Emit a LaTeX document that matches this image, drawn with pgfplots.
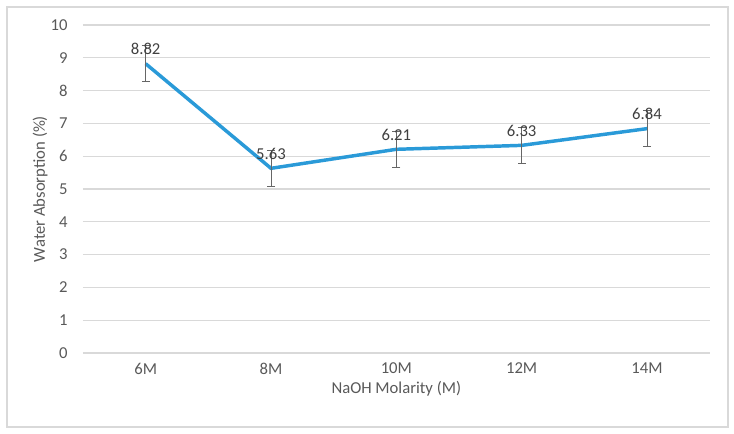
\documentclass[border=0pt]{standalone}
\usepackage{pgfplots}
\pgfplotsset{compat=1.18}
\usepackage{fontspec}
\setmainfont{Carlito}
\definecolor{lineblue}{HTML}{2A9AD8}
\definecolor{txtgray}{HTML}{595959}
\definecolor{gridgray}{HTML}{D9D9D9}
\definecolor{lblgray}{HTML}{404040}
\begin{document}
\begin{tikzpicture}
\path[use as bounding box] (-62.25pt,-60.75pt) rectangle (488.25pt,264.75pt);
\draw[gridgray, line width=0.8pt] (-57pt,-55.5pt) rectangle (483.75pt,259.5pt);
\begin{axis}[
  at={(0pt,0pt)}, anchor=south west,
  scale only axis, width=470pt, height=246pt,
  xmin=-0.5, xmax=4.5, ymin=0, ymax=10,
  xtick=data, xticklabels={6M,8M,10M,12M,14M},
  ytick={0,1,...,10},
  axis line style={draw=none},
  major tick length=0pt,
  ymajorgrids, grid style={gridgray, line width=0.8pt},
  tick label style={font=\fontsize{12.5}{14}\selectfont, text=txtgray},
  /pgf/number format/assume math mode=true,
  xticklabel style={yshift=-4pt},
  yticklabel style={xshift=-8pt},
  xlabel={NaOH Molarity (M)}, ylabel={Water Absorption (\%)},
  label style={font=\fontsize{12.5}{14}\selectfont, text=txtgray},
  xlabel style={yshift=2pt},
  ylabel style={yshift=-4.5pt},
  clip=false,
]
\addplot[lineblue, line width=2.6pt, mark=none,
  error bars/.cd, y dir=both, y explicit,
  error bar style={line width=0.6pt, black!60},
  error mark options={rotate=90, mark size=3pt, line width=0.6pt, black!60}]
  coordinates {
  (0,8.82) +- (0,0.55)
  (1,5.63) +- (0,0.55)
  (2,6.21) +- (0,0.55)
  (3,6.33) +- (0,0.55)
  (4,6.84) +- (0,0.55)
  };
\addplot[draw=none, mark=none,
  nodes near coords, point meta=explicit symbolic,
  nodes near coords style={font=\fontsize{12.5}{14}\selectfont, text=lblgray, anchor=south, yshift=3pt}]
  coordinates {
  (0,8.82) [8.82]
  (1,5.63) [5.63]
  (2,6.21) [6.21]
  (3,6.33) [6.33]
  (4,6.84) [6.84]
  };
\end{axis}
\end{tikzpicture}
\end{document}
